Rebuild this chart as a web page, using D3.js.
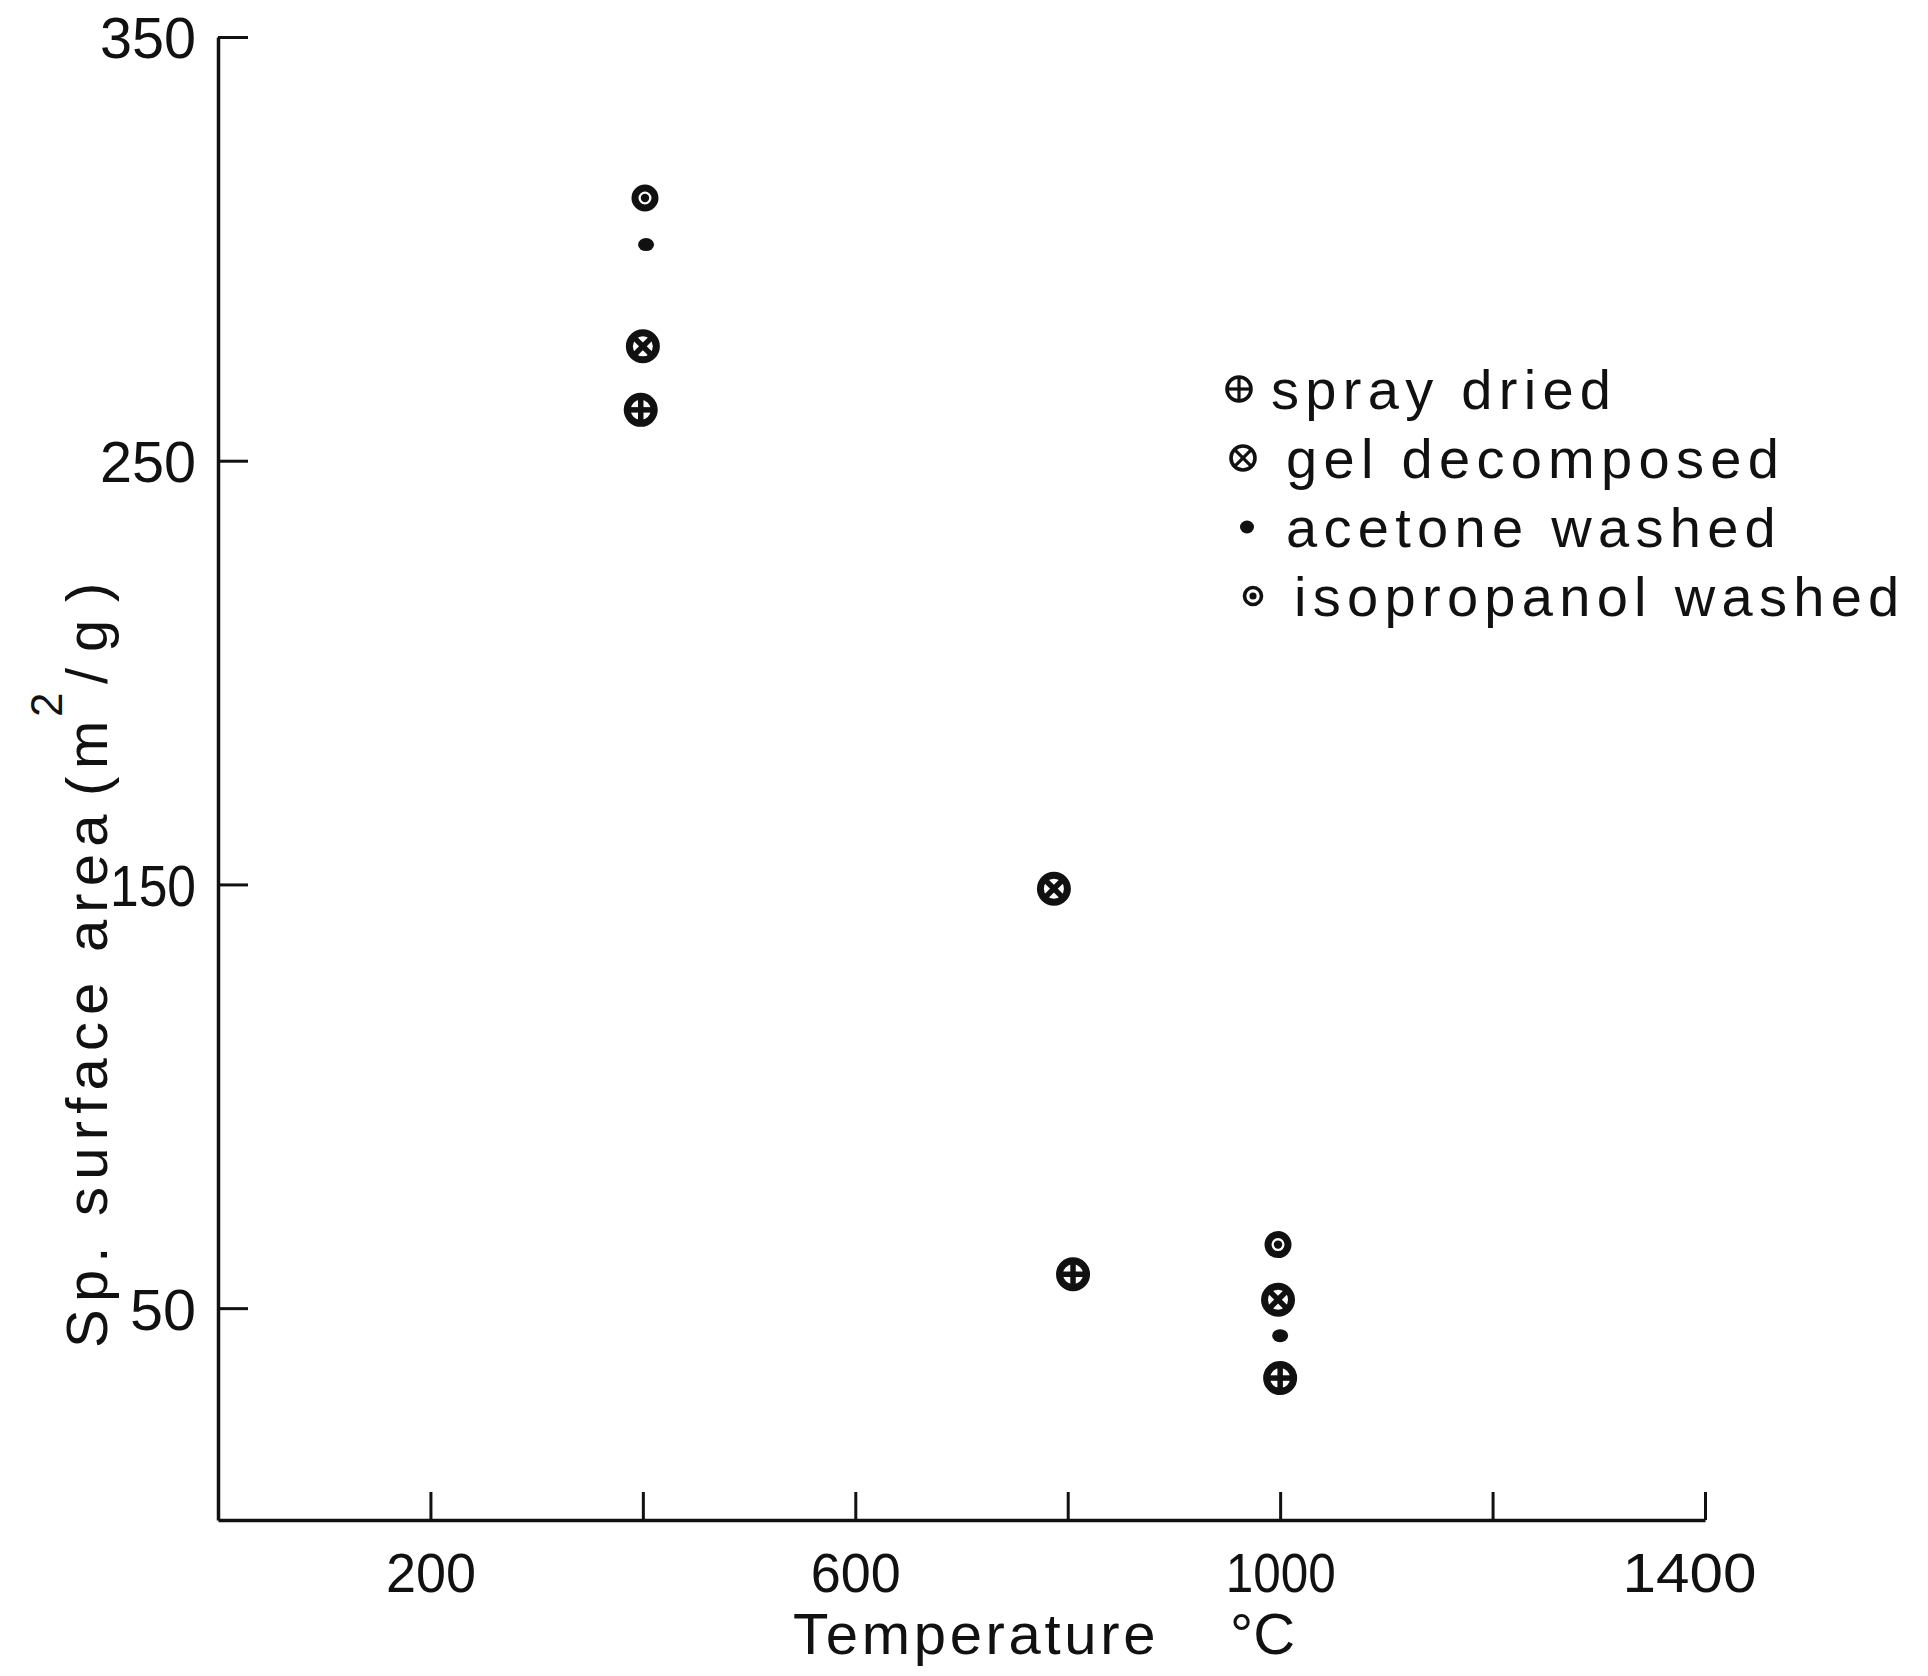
<!DOCTYPE html>
<html>
<head>
<meta charset="utf-8">
<script src="https://cdn.jsdelivr.net/npm/d3@7"></script>
<style>
  html, body { margin: 0; padding: 0; background: #fff; }
  svg { display: block; }
  text { font-family: "Liberation Sans", Arial, sans-serif; fill: #111; }
</style>
</head>
<body>
<svg id="chart" width="1928" height="1676"></svg>
<script>
// Specific surface area of the powders against calcination temperature
const seriesNames = ["spray dried", "gel decomposed", "acetone washed", "isopropanol washed"];
const seriesSymbols = ["plus", "cross", "dot", "ring"];

const sprayDriedTemp = [398, 805, 1000];
const sprayDriedArea = [262, 58, 33.5];

const gelDecomposedTemp = [400, 787, 998];
const gelDecomposedArea = [277, 149, 52];

const acetoneWashedTemp = [403, 1000];
const acetoneWashedArea = [301, 43.5];

const isopropanolWashedTemp = [402, 998];
const isopropanolWashedArea = [312, 65];

const xTickValues = [200, 400, 600, 800, 1000, 1200, 1400];
const xTickLabels = [200, 600, 1000, 1400];
const yTickValues = [50, 150, 250, 350];

const seriesTemps = [sprayDriedTemp, gelDecomposedTemp, acetoneWashedTemp, isopropanolWashedTemp];
const seriesAreas = [sprayDriedArea, gelDecomposedArea, acetoneWashedArea, isopropanolWashedArea];

const svg = d3.select("#chart");
const ink = "#111";

const x = d3.scaleLinear().domain([0, 1400]).range([218, 1705]);
const y = d3.scaleLinear().domain([0, 350]).range([1520, 37]);

// narrow stencil-style digits: the "1" takes less room than the others
const digitRun = s => String(s).split("").reduce((w, c) => w + (c === "1" ? 20 : 30), 0);

// x axis: ticks point into the plot
const xAxis = d3.axisBottom(x)
  .tickValues(xTickValues)
  .tickSizeInner(-28)
  .tickSizeOuter(0)
  .tickPadding(0)
  .tickFormat(d => xTickLabels.includes(d) ? String(d) : "");

const gx = svg.append("g")
  .attr("transform", `translate(0,${y(0)})`)
  .call(xAxis);
gx.select(".domain").attr("stroke", ink).attr("stroke-width", 3.5);
gx.selectAll(".tick line").attr("stroke", ink).attr("stroke-width", 3);
gx.selectAll(".tick text")
  .attr("y", 72)
  .attr("dy", 0)
  .style("font-size", "56px")
  .style("font-family", "'Liberation Sans', Arial, sans-serif")
  .attr("fill", ink)
  .filter(d => xTickLabels.includes(d))
  .attr("dx", d => d === 1400 ? -16 : 0)
  .attr("textLength", d => digitRun(d) + (d === 1400 ? 24 : 0))
  .attr("lengthAdjust", "spacingAndGlyphs");

// y axis: ticks point into the plot
const yAxis = d3.axisLeft(y)
  .tickValues(yTickValues)
  .tickSizeInner(-30)
  .tickSizeOuter(0)
  .tickPadding(22)
  .tickFormat(d3.format("d"));

const gy = svg.append("g")
  .attr("transform", `translate(${x(0)},0)`)
  .call(yAxis);
gy.select(".domain").attr("stroke", ink).attr("stroke-width", 3.5);
gy.selectAll(".tick line").attr("stroke", ink).attr("stroke-width", 3);
gy.selectAll(".tick text")
  .attr("dy", "0.36em")
  .style("font-size", "58px")
  .style("font-family", "'Liberation Sans', Arial, sans-serif")
  .attr("fill", ink)
  .attr("textLength", d => digitRun(d) + 6)
  .attr("lengthAdjust", "spacingAndGlyphs");

// Axis titles
const xTitle = svg.append("text")
  .attr("x", 793)
  .attr("y", 1654)
  .style("font-size", "58px");
xTitle.append("tspan").style("letter-spacing", "3.7px").text("Temperature");
xTitle.append("tspan").attr("x", 1230).text("°C");

const yTitle = svg.append("text")
  .attr("transform", "translate(107,0) rotate(-90)")
  .style("font-size", "58px");
yTitle.append("tspan").attr("x", -1348).style("letter-spacing", "7.2px").text("Sp. surface area");
yTitle.append("tspan").attr("x", -796).text("(");
yTitle.append("tspan").attr("x", -769).text("m");
yTitle.append("tspan").attr("x", -717).attr("dy", -45).style("font-size", "44px").text("2");
yTitle.append("tspan").attr("x", -684).attr("dy", 45).text("/");
yTitle.append("tspan").attr("x", -652).text("g");
yTitle.append("tspan").attr("x", -602).text(")");

// Marker glyphs
function drawSymbol(g, type, s) {
  if (type === "plus") {
    g.append("circle").attr("r", s.r).attr("fill", "#fff").attr("stroke", ink).attr("stroke-width", s.sw);
    g.append("line").attr("x1", -s.r).attr("x2", s.r).attr("stroke", ink).attr("stroke-width", s.iw);
    g.append("line").attr("y1", -s.r).attr("y2", s.r).attr("stroke", ink).attr("stroke-width", s.iw);
  } else if (type === "cross") {
    const k = s.r * 0.72;
    g.append("circle").attr("r", s.r).attr("fill", "#fff").attr("stroke", ink).attr("stroke-width", s.sw);
    g.append("line").attr("x1", -k).attr("y1", -k).attr("x2", k).attr("y2", k).attr("stroke", ink).attr("stroke-width", s.iw);
    g.append("line").attr("x1", -k).attr("y1", k).attr("x2", k).attr("y2", -k).attr("stroke", ink).attr("stroke-width", s.iw);
  } else if (type === "dot") {
    g.append("ellipse").attr("rx", s.dx).attr("ry", s.dy).attr("fill", ink);
  } else if (type === "ring") {
    g.append("circle").attr("r", s.rr).attr("fill", "#fff").attr("stroke", ink).attr("stroke-width", s.sw);
    g.append("circle").attr("r", s.rr * 0.42).attr("fill", ink);
  }
}

const plotStyle = { r: 13.5, sw: 7, iw: 5.5, dx: 8, dy: 6.5, rr: 10 };
const legendStyle = { r: 12, sw: 3.6, iw: 3.2, dx: 7, dy: 6.5, rr: 8.5 };

// Data points
const points = svg.append("g");
seriesNames.forEach((name, i) => {
  seriesTemps[i].forEach((t, j) => {
    const g = points.append("g")
      .attr("transform", `translate(${x(t)},${y(seriesAreas[i][j])})`);
    drawSymbol(g, seriesSymbols[i], plotStyle);
  });
});

// Legend: the column of symbols drifts slightly to the right going down
const legendTextX = [32, 47, 47, 55];
const legend = svg.append("g").attr("transform", "translate(1239,389)");
seriesNames.forEach((name, i) => {
  drawSymbol(
    legend.append("g").attr("transform", `translate(${i * 4 + (i === 3 ? 2 : 0)},${i * 69})`),
    seriesSymbols[i], legendStyle);
  legend.append("text")
    .attr("x", legendTextX[i])
    .attr("y", i * 69)
    .attr("dy", "0.36em")
    .style("font-size", "56px")
    .style("letter-spacing", "6.3px")
    .text(name);
});
</script>
</body>
</html>
